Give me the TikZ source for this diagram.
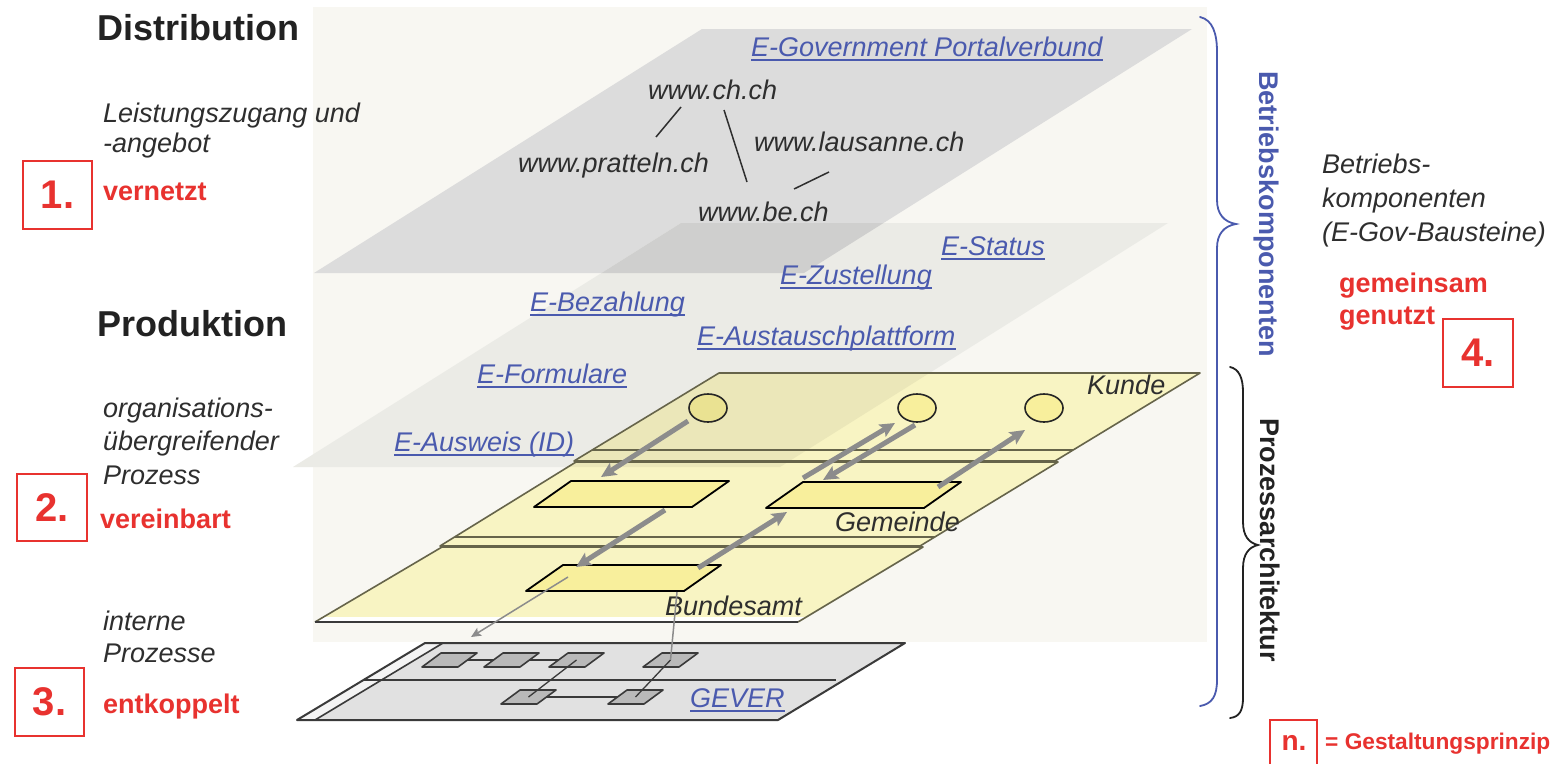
\documentclass[tikz,border=0pt]{standalone}
\usepackage{fontspec}
\setmainfont{Liberation Sans}
\usetikzlibrary{arrows.meta,shapes.geometric}
\definecolor{bgc}{HTML}{F8F7F2}
\definecolor{topc}{HTML}{DCDCDC}
\definecolor{midc}{HTML}{EBEBE6}
\definecolor{ovc}{HTML}{CFCFCE}
\definecolor{yel}{HTML}{F8F4C3}
\definecolor{yeld}{HTML}{EBE7B9}
\definecolor{boxy}{HTML}{F8EF9C}
\definecolor{boxyd}{HTML}{EAE292}
\definecolor{olive}{HTML}{66644A}
\definecolor{arr}{HTML}{8C8C8C}
\definecolor{redc}{HTML}{E8322F}
\definecolor{bluec}{HTML}{4A5AAE}
\definecolor{hdc}{HTML}{222222}
\definecolor{itc}{HTML}{2E2E2E}
\definecolor{gev}{HTML}{E1E1E1}
\definecolor{gevs}{HTML}{F4F4F4}
\definecolor{gevbox}{HTML}{B9B9B9}
\definecolor{gline}{HTML}{3A3A3A}
\newcommand\myfs[1]{\fontsize{#1}{#1}\selectfont}
\tikzset{
  pics/gbox/.style={code={\draw[draw=gline,line width=1.6pt,fill=gevbox,line join=round] (-8.5,-7) -- (27.5,-7) -- (8.5,7) -- (-27.5,7) -- cycle;}},
  pics/pbox/.style={code={\draw[draw=black,line width=1.8pt,fill=boxy,line join=round] (-60.5,-13) -- (97.5,-13) -- (60.5,13) -- (-97.5,13) -- cycle;}},
}
\begin{document}
\begin{tikzpicture}[x=1pt,y=-1pt,
  it/.style={inner sep=0pt,anchor=base west,text=itc,font=\myfs{27}\itshape},
  hd/.style={inner sep=0pt,anchor=base west,text=hdc,font=\myfs{36}\bfseries},
  rd/.style={inner sep=0pt,anchor=base west,text=redc,font=\myfs{27}\bfseries},
  lk/.style={inner sep=0pt,anchor=base west,text=bluec,font=\myfs{27}\itshape},
  ul/.style={draw=bluec,line width=1.7pt},
  nb/.style={draw=redc,line width=1.6pt,inner sep=0pt,text=redc,font=\myfs{40}\bfseries},
  pl/.style={draw=olive,line width=1.6pt,line join=round},
  ta/.style={draw=arr,line width=5pt,-{Stealth[length=15pt,width=14pt,inset=3pt]}},
  tn/.style={draw=arr,line width=1.5pt,-{Stealth[length=10pt,width=9pt,inset=2pt]}},
  gl/.style={draw=gline,line width=1.6pt},
  cir/.style={ellipse,draw=black!85,line width=1.6pt,fill=boxy,minimum width=38pt,minimum height=28pt,inner sep=0pt},
  brc/.style={line width=1.8pt,line cap=round}
]
\useasboundingbox (0,0) rectangle (1554,763);
\fill[white] (0,0) rectangle (1554,763);
\fill[bgc] (313,7) rectangle (1207,642);

% distribution plane and shared components plane
\fill[topc] (702,29) -- (1192,29) -- (804,273) -- (314,273) -- cycle;
\fill[midc] (681,223) -- (1168,223) -- (780,467) -- (293,467) -- cycle;
\begin{scope}
  \clip (681,223) -- (1168,223) -- (780,467) -- (293,467) -- cycle;
  \fill[ovc] (702,29) -- (1192,29) -- (804,273) -- (314,273) -- cycle;
\end{scope}

% yellow process planes
\fill[yel] (719,373) -- (1200,373) -- (1055,461) -- (574,461) -- cycle;
\fill[yel] (576,462) -- (1058,462) -- (920,546) -- (440,546) -- cycle;
\fill[yel] (442,547) -- (923,547) -- (798,622) -- (315,622) -- cycle;
\fill[white] (323.5,617) -- (806.3,617) -- (798,622) -- (315,622) -- cycle;
\begin{scope}
  \clip (681,223) -- (1168,223) -- (780,467) -- (293,467) -- cycle;
  \fill[yeld] (719,373) -- (1200,373) -- (1055,461) -- (574,461) -- cycle;
  \fill[yeld] (576,462) -- (1058,462) -- (920,546) -- (440,546) -- cycle;
\end{scope}
\draw[pl] (719,373) -- (1200,373) -- (1055,461) -- (574,461) -- cycle;
\draw[pl] (592,450) -- (1073,450);
\draw[pl] (576,462) -- (1058,462) -- (920,546) -- (440,546) -- cycle;
\draw[pl] (455,537) -- (935,537);
\draw[pl] (315,622) -- (442,547) -- (923,547) -- (798,622);
\draw[draw=gline,line width=2pt] (315,622) -- (798,622);

% process boxes and customers
\coordinate (b1) at (631.5,494);
\coordinate (b2) at (863.5,495);
\coordinate (b3) at (623.5,578);
\pic at (b1) {pbox};
\pic at (b2) {pbox};
\pic at (b3) {pbox};
\node[cir,fill=boxyd] (c1) at (708,408) {};
\node[cir] (c2) at (917,408) {};
\node[cir] (c3) at (1044,408) {};

% process arrows
\coordinate (a1s) at (688,421); \coordinate (a1e) at (601,477);
\coordinate (a2s) at (803,478); \coordinate (a2e) at (895,423);
\coordinate (a3s) at (915,425); \coordinate (a3e) at (823,480);
\coordinate (a4s) at (938,487); \coordinate (a4e) at (1025,430);
\coordinate (a5s) at (665,510); \coordinate (a5e) at (576,567);
\coordinate (a6s) at (698,568); \coordinate (a6e) at (787,512);
\draw[ta] (a1s) -- (a1e);
\draw[ta] (a2s) -- (a2e);
\draw[ta] (a3s) -- (a3e);
\draw[ta] (a4s) -- (a4e);
\draw[ta] (a5s) -- (a5e);
\draw[ta] (a6s) -- (a6e);

\node[it] (kunde) at (1087,394) {Kunde};
\node[it] (gemeinde) at (835,531) {Gemeinde};
\node[it] (bundesamt) at (665,615) {Bundesamt};

% GEVER plane
\fill[gev] (425,643) -- (905,643) -- (778,720) -- (297,720) -- cycle;
\fill[gevs] (425,643) -- (443,643) -- (315,720) -- (297,720) -- cycle;
\draw[gl] (363.5,680) -- (836,680);
\draw[gl] (443,643) -- (315,720);
\draw[draw=gline,line width=2pt,line join=round] (425,643) -- (905,643) -- (778,720) -- (297,720) -- cycle;
\coordinate (g1) at (449.5,660);
\coordinate (g2) at (511.5,660);
\coordinate (g3) at (576.5,660);
\coordinate (g4) at (670.5,660);
\coordinate (g5) at (528.5,697);
\coordinate (g6) at (635.5,697);
\draw[gl,line width=1.3pt] (g1) -- (g2);
\draw[gl,line width=1.3pt] (g2) -- (g3);
\draw[gl,line width=1.3pt] (g5) -- (g6);
\pic at (g1) {gbox};
\pic at (g2) {gbox};
\pic at (g3) {gbox};
\pic at (g4) {gbox};
\pic at (g5) {gbox};
\pic at (g6) {gbox};
\draw[gl,line width=1.3pt] (g3) -- (g5);
\draw[gl,line width=1.3pt] (g4) -- (g6);
\coordinate (t1s) at (568,577); \coordinate (t1e) at (471,637);
\coordinate (t2s) at (677,592);
\draw[tn] (t1s) -- (t1e);
\draw[draw=arr,line width=1.5pt] (t2s) -- (g4);
\node[lk] (gever) at (690,707) {GEVER};
\draw[ul] ([yshift=-4pt]gever.base west) -- ([yshift=-4pt]gever.base east);

% portal texts
\node[lk] (egov) at (751,56) {E-Government Portalverbund};
\draw[ul] ([yshift=-4pt]egov.base west) -- ([yshift=-4pt]egov.base east);
\node[it] (wch) at (648,99) {www.ch.ch};
\node[it] (wlau) at (754,151) {www.lausanne.ch};
\node[it] (wprat) at (518,172) {www.pratteln.ch};
\node[it] (wbe) at (698,221) {www.be.ch};
\coordinate (l1s) at (681,107); \coordinate (l1e) at (656,137);
\coordinate (l2s) at (724,110); \coordinate (l2e) at (747,182);
\coordinate (l3s) at (829,172); \coordinate (l3e) at (794,189);
\draw[line width=1.5pt,itc] (l1s) -- (l1e);
\draw[line width=1.5pt,itc] (l2s) -- (l2e);
\draw[line width=1.5pt,itc] (l3s) -- (l3e);

% e-gov components
\node[lk] (estat) at (941,255) {E-Status};
\node[lk] (ezust) at (780,284) {E-Zustellung};
\node[lk] (ebez) at (530,311) {E-Bezahlung};
\node[lk] (eaus) at (697,345) {E-Austauschplattform};
\node[lk] (eform) at (477,383) {E-Formulare};
\node[lk] (eid) at (394,451) {E-Ausweis (ID)};
\foreach \n in {estat,ezust,ebez,eaus,eform,eid}
  \draw[ul] ([yshift=-4pt]\n.base west) -- ([yshift=-4pt]\n.base east);

% left column
\node[hd] (distr) at (97,40) {Distribution};
\node[it] (lz1) at (103,122) {Leistungszugang und};
\node[it] (lz2) at (103,152) {-angebot};
\node[nb,minimum width=69pt,minimum height=68pt] (n1) at (57.5,195) {1.};
\node[rd] (vern) at (103,200) {vernetzt};
\node[hd] (prod) at (97,336) {Produktion};
\node[it] (og1) at (103,417) {organisations-};
\node[it] (og2) at (103,450) {übergreifender};
\node[it] (og3) at (103,484) {Prozess};
\node[nb,minimum width=70pt,minimum height=67pt] (n2) at (52,507.5) {2.};
\node[rd] (vere) at (100,528) {vereinbart};
\node[it] (ip1) at (103,630) {interne};
\node[it] (ip2) at (103,662) {Prozesse};
\node[nb,minimum width=69pt,minimum height=68pt] (n3) at (49.5,702) {3.};
\node[rd] (entk) at (103,713) {entkoppelt};

% braces
\draw[brc,bluec] (1200,17) .. controls (1213,20) and (1217,34) .. (1217,52) -- (1217,200) .. controls (1217,214) and (1224,222) .. (1236,224) .. controls (1224,226) and (1217,234) .. (1217,248) -- (1217,680) .. controls (1217,696) and (1212,704) .. (1200,706);
\draw[brc,hdc] (1230,367) .. controls (1239,369) and (1243,378) .. (1243,392) -- (1243,522) .. controls (1243,536) and (1249,543) .. (1258,545) .. controls (1249,547) and (1243,554) .. (1243,568) -- (1243,698) .. controls (1243,711) and (1239,717) .. (1230,718);
\node[rotate=-90,anchor=base,inner sep=0pt,text=bluec,font=\myfs{27}\bfseries] (bk) at (1259,214) {Betriebskomponenten};
\node[rotate=-90,anchor=base,inner sep=0pt,text=hdc,font=\myfs{27}\bfseries] (pa) at (1260,540) {Prozessarchitektur};

% right column
\node[it] (bk1) at (1322,173) {Betriebs-};
\node[it] (bk2) at (1322,207) {komponenten};
\node[it] (bk3) at (1322,241) {(E-Gov-Bausteine)};
\node[rd] (gem1) at (1339,292) {gemeinsam};
\node[rd] (gem2) at (1339,324) {genutzt};
\node[nb,minimum width=70pt,minimum height=68pt] (n4) at (1478,353) {4.};

% legend
\draw[draw=redc,line width=1.6pt] (1270,775) -- (1270,720) -- (1317,720) -- (1317,775);
\node[inner sep=0pt,anchor=base,text=redc,font=\myfs{28}\bfseries] (nn) at (1294,750) {n.};
\node[inner sep=0pt,anchor=base west,text=redc,font=\myfs{22.7}\bfseries] (leg) at (1325,749) {= Gestaltungsprinzip};
\end{tikzpicture}
\end{document}
